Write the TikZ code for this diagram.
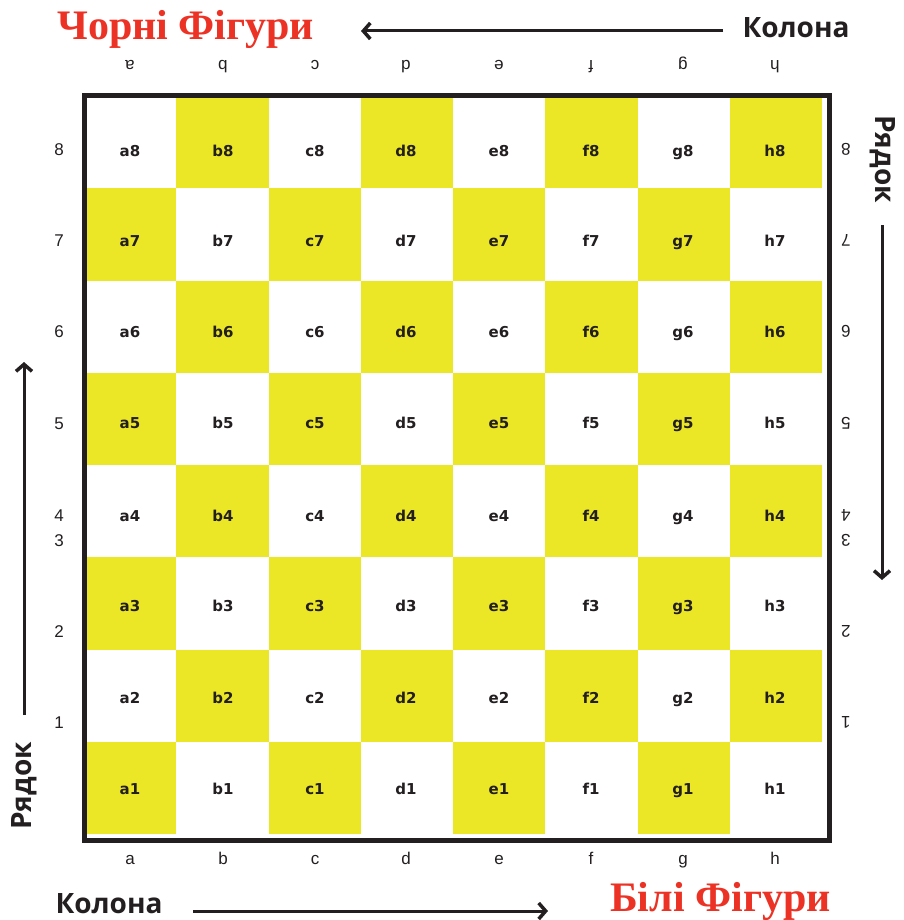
\documentclass[tikz,border=0pt]{standalone}
\usepackage{fontspec}
\setmainfont{Liberation Serif}
\newfontfamily\titlefont[UprightFont=* Bold]{Liberation Serif}
\newfontfamily\headfont[UprightFont=* Bold]{Open Sans}
\newfontfamily\sqfont[UprightFont=* Bold]{DejaVu Sans}
\newfontfamily\thinfont{Liberation Sans}
\usetikzlibrary{arrows.meta}
\definecolor{boardyellow}{RGB}{236,231,38}
\definecolor{titlered}{RGB}{236,50,36}
\definecolor{ink}{RGB}{35,31,32}
\begin{document}
\begin{tikzpicture}[x=1pt,y=-1pt,
  sqbox/.style={minimum size=92.25pt, inner sep=0pt, draw=none, anchor=north west},
  sqlabel/.style={font=\sqfont\fontsize{15}{15}\selectfont, text=ink, inner sep=0pt, text height=11pt, text depth=0pt},
  coordlabel/.style={font=\thinfont\fontsize{17}{17}\selectfont, text=ink, inner sep=0pt, text height=12pt, text depth=0pt},
  heading/.style={font=\headfont\fontsize{28}{28}\selectfont, text=ink, inner sep=0pt},
  redtitle/.style={font=\titlefont\fontsize{42}{42}\selectfont, text=titlered, inner sep=0pt},
  dirarrow/.style={line width=3pt, draw=ink, -{Straight Barb[length=7pt,width=16pt,line width=3.5pt]}}
]
\useasboundingbox (0,0) rectangle (903,920);
\fill[white] (0,0) rectangle (903,920);

% squares
\foreach \f [count=\i from 0] in {a,b,c,d,e,f,g,h}{
  \foreach \r in {1,...,8}{
    \pgfmathtruncatemacro\s{\i+\r}
    \ifodd\s \def\sqcol{boardyellow}\else \def\sqcol{white}\fi
    \node[sqbox, fill=\sqcol] (sq-\f\r) at ({84+\i*92.25},{96+(8-\r)*92.25}) {};
  }
}
% board border
\node[draw=ink, line width=5pt, inner sep=0pt, minimum width=745pt, minimum height=744pt, anchor=north west] (board) at (81.5,93.5) {};

% square labels
\foreach \f/\x in {a/130,b/223,c/315,d/406,e/499,f/591,g/683,h/775}{
  \foreach \r/\y in {8/151,7/241,6/332,5/423,4/516,3/606,2/698,1/789}{
    \node[sqlabel] (lab-\f\r) at (\x,\y) {\f\r};
  }
  \node[coordlabel] (bot-\f) at (\x,858) {\f};
  \node[coordlabel, rotate=180] (top-\f) at (\x,67) {\f};
}
% rank numbers
\foreach \r/\y in {8/150,7/240,6/331,5/423,4/515,3/540,2/631,1/722}{
  \node[coordlabel] (left-\r) at (59,\y) {\r};
  \node[coordlabel, rotate=180] (right-\r) at (846,\y) {\r};
}

% titles
\node[redtitle, anchor=base west] (black) at (57,40) {Чорні Фігури};
\node[redtitle, anchor=base west] (white) at (610,911) {Білі Фігури};
\node[heading] (coltop) at (796,27.5) {Колона};
\node[heading] (colbot) at (109,904) {Колона};
\node[heading, rotate=90] (rowleft) at (24,786) {Рядок};
\node[heading, rotate=-90] (rowright) at (883,159) {Рядок};

% arrows
\coordinate (ta1) at (723,31);
\coordinate (ta2) at (361,31);
\coordinate (ba1) at (193,911);
\coordinate (ba2) at (548,911);
\coordinate (la1) at (24,715);
\coordinate (la2) at (24,362);
\coordinate (ra1) at (882,225);
\coordinate (ra2) at (882,580);
\draw[dirarrow] (ta1) -- (ta2);
\draw[dirarrow] (ba1) -- (ba2);
\draw[dirarrow] (la1) -- (la2);
\draw[dirarrow] (ra1) -- (ra2);
\end{tikzpicture}
\end{document}
